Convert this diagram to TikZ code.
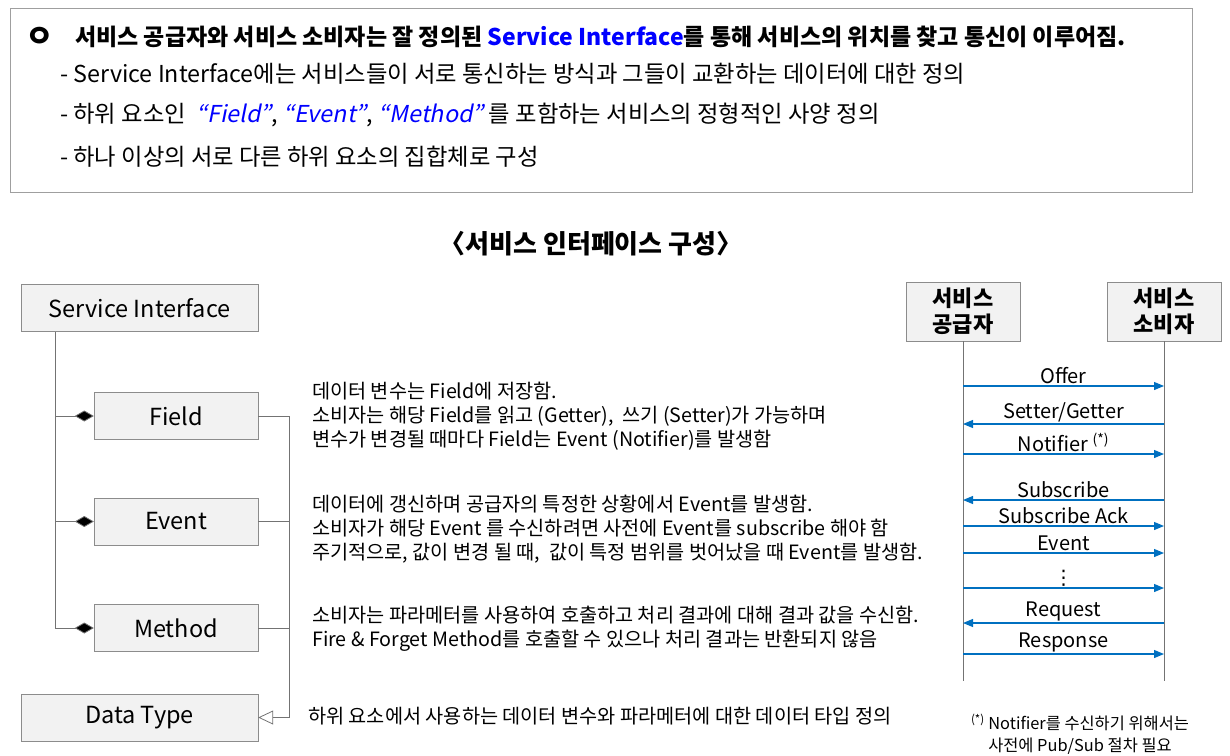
\documentclass[tikz,border=0pt]{standalone}
\usepackage{fontspec}
\setmainfont{Noto Sans CJK KR}
\newfontfamily\slfont[FakeSlant=0.2]{Noto Sans CJK KR}
\newfontfamily\symfont{DejaVu Sans}
\usetikzlibrary{positioning,arrows.meta}
\definecolor{boxfill}{HTML}{F2F2F2}
\definecolor{boxline}{HTML}{8C8C8C}
\definecolor{msgblue}{HTML}{0070C0}

\begin{document}
\begin{tikzpicture}[x=1pt, y=-1pt,
  frame/.style={draw=gray!75, line width=0.8pt},
  cls/.style={draw=boxline, fill=boxfill, minimum height=47pt, inner sep=0pt,
              font=\fontsize{23.5}{26}\selectfont},
  actor/.style={draw=boxline, fill=boxfill, minimum width=114pt, minimum height=59pt,
                inner sep=0pt, align=center, font=\fontsize{22}{26}\selectfont\bfseries},
  desc/.style={anchor=west, align=left, inner sep=0pt, font=\fontsize{19.7}{24}\selectfont},
  line/.style={anchor=west, inner sep=0pt, font=\fontsize{23.3}{26}\selectfont},
  link/.style={draw=gray!90!black, line width=0.8pt},
  comp/.style={link, -{Diamond[length=19pt, width=11pt, fill=black]}},
  gen/.style={link, -{Triangle[open, length=15pt, width=14pt, fill=white]}},
  life/.style={draw=gray!90!black, line width=0.8pt},
  msg/.style={draw=msgblue, line width=1.1pt, -{Triangle[length=10pt, width=8pt]}},
  lbl/.style={above, inner sep=1.5pt, font=\fontsize{20}{22}\selectfont}]
\useasboundingbox (0,0) rectangle (1230,755);
% summary box
\node[frame, minimum width=1182pt, minimum height=184pt] (intro) at (601,100) {};
\node[inner sep=0pt, font=\fontsize{31}{32}\selectfont\bfseries] (bullet) at (40,37) {ㅇ};
\node[line, font=\fontsize{23}{26}\selectfont\bfseries] (head) at (75,37)
  {서비스 공급자와 서비스 소비자는 잘 정의된 {\color{blue}Service Interface}를 통해 서비스의 위치를 찾고 통신이 이루어짐.};
\node[line] (l1) at (60,74)
  {- Service Interface에는 서비스들이 서로 통신하는 방식과 그들이 교환하는 데이터에 대한 정의};
\node[line] (l2) at (60,115)
  {- 하위 요소인 ~{\slfont\color{blue}“Field”}, {\slfont\color{blue}“Event”}, {\slfont\color{blue}“Method”} 를 포함하는 서비스의 정형적인 사양 정의};
\node[line] (l3) at (60,157) {- 하나 이상의 서로 다른 하위 요소의 집합체로 구성};
\node[font=\fontsize{26}{28}\selectfont\bfseries] (title) at (591,244) {〈서비스 인터페이스 구성〉};
% class structure
\node[cls, minimum width=237pt] (si) at (139.5,308) {Service Interface};
\node[cls, minimum width=164pt] (field) at (176,416) {Field};
\node[cls, minimum width=164pt] (event) at (176,521.5) {Event};
\node[cls, minimum width=164pt] (method) at (176,628) {Method};
\node[cls, minimum width=237pt] (dtype) at (139.5,717.5) {Data Type};
\coordinate (spine) at (55,332);
\coordinate (bus) at (289,416);
\draw[comp] (spine) |- (method.west);
\draw[comp] (spine |- field) -- (field.west);
\draw[comp] (spine |- event) -- (event.west);
\draw[link] (field.east) -- (bus);
\draw[link] (event.east) -- (bus |- event);
\draw[link] (method.east) -- (bus |- method);
\draw[gen] (bus) |- (dtype.east);
% descriptions
\node[desc] (fdesc) at (312,416) {데이터 변수는 Field에 저장함.\\
  소비자는 해당 Field를 읽고 (Getter),~ 쓰기 (Setter)가 가능하며\\
  변수가 변경될 때마다 Field는 Event (Notifier)를 발생함};
\node[desc] (edesc) at (312,529) {데이터에 갱신하며 공급자의 특정한 상황에서 Event를 발생함.\\
  소비자가 해당 Event 를 수신하려면 사전에 Event를 subscribe 해야 함\\
  주기적으로, 값이 변경 될 때,~ 값이 특정 범위를 벗어났을 때 Event를 발생함.};
\node[desc] (mdesc) at (312,629) {소비자는 파라메터를 사용하여 호출하고 처리 결과에 대해 결과 값을 수신함.\\
  Fire \& Forget Method를 호출할 수 있으나 처리 결과는 반환되지 않음};
\node[desc] (ddesc) at (308,716) {하위 요소에서 사용하는 데이터 변수와 파라메터에 대한 데이터 타입 정의};
% sequence
\node[actor] (prov) at (963,311.5) {서비스\\공급자};
\node[actor] (cons) at (1164,311.5) {서비스\\소비자};
\draw[life] (prov.south) -- ++(0,340);
\draw[life] (cons.south) -- ++(0,340);
\draw[msg] (prov |- 0,386) -- node[lbl] {Offer} (cons |- 0,386);
\draw[msg] (cons |- 0,424) -- node[lbl] {Setter/Getter} (prov |- 0,424);
\draw[msg] (prov |- 0,454) -- node[lbl] {Notifier \textsuperscript{(*)}} (cons |- 0,454);
\draw[msg] (cons |- 0,500) -- node[lbl] {Subscribe} (prov |- 0,500);
\draw[msg] (prov |- 0,526) -- node[lbl] {Subscribe Ack} (cons |- 0,526);
\draw[msg] (prov |- 0,553) -- node[lbl] {Event} (cons |- 0,553);
\draw[msg] (prov |- 0,588) -- node[lbl] {\symfont ⋮} (cons |- 0,588);
\draw[msg] (cons |- 0,623) -- node[lbl] {Request} (prov |- 0,623);
\draw[msg] (prov |- 0,654) -- node[lbl] {Response} (cons |- 0,654);
\node[align=center, inner sep=0pt, font=\fontsize{16.4}{22}\selectfont] (note) at (1080,734)
  {\textsuperscript{(*)} Notifier를 수신하기 위해서는\\사전에 Pub/Sub 절차 필요};
\end{tikzpicture}
\end{document}
